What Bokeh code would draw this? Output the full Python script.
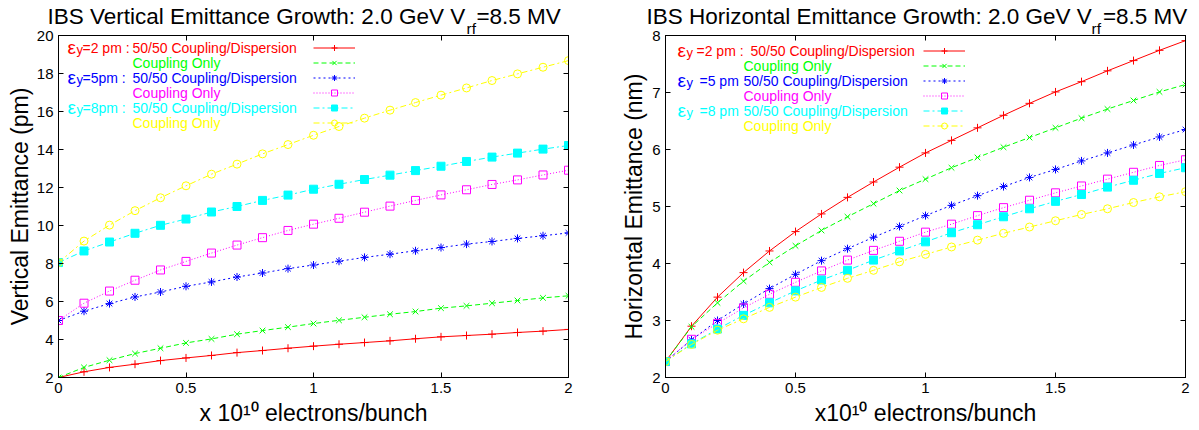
from bokeh.plotting import figure
from bokeh.models import Range1d, LinearAxis, FixedTicker, Label, Legend, LegendItem, Title
from bokeh.layouts import row
from bokeh.embed import file_html
from bokeh.resources import INLINE
from bokeh.core.properties import value

# ---------------- data ----------------
x_vals = [0.0, 0.1, 0.2, 0.3, 0.4, 0.5, 0.6, 0.7, 0.8, 0.9, 1.0,
          1.1, 1.2, 1.3, 1.4, 1.5, 1.6, 1.7, 1.8, 1.9, 2.0]

# Vertical emittance (pm)
v_2pm_5050 = [2.00, 2.30, 2.53, 2.70, 2.89, 3.03, 3.16, 3.31, 3.42, 3.54, 3.65,
              3.75, 3.84, 3.93, 4.04, 4.14, 4.21, 4.28, 4.37, 4.44, 4.53]
v_2pm_coup = [2.00, 2.53, 2.91, 3.26, 3.54, 3.82, 4.03, 4.28, 4.47, 4.65, 4.84,
              5.01, 5.17, 5.33, 5.47, 5.65, 5.77, 5.91, 6.05, 6.19, 6.30]
v_5pm_5050 = [5.00, 5.49, 5.89, 6.24, 6.50, 6.80, 7.03, 7.29, 7.50, 7.73, 7.92,
              8.12, 8.32, 8.49, 8.67, 8.84, 9.02, 9.16, 9.32, 9.46, 9.61]
v_5pm_coup = [5.00, 5.91, 6.55, 7.12, 7.66, 8.11, 8.55, 8.97, 9.36, 9.74, 10.07,
              10.38, 10.70, 11.02, 11.32, 11.61, 11.88, 12.16, 12.40, 12.66, 12.91]
v_8pm_5050 = [8.05, 8.66, 9.13, 9.59, 10.01, 10.34, 10.71, 11.00, 11.32, 11.60, 11.91,
              12.17, 12.42, 12.65, 12.89, 13.12, 13.37, 13.60, 13.81, 14.02, 14.21]
v_8pm_coup = [8.05, 9.18, 10.02, 10.78, 11.46, 12.09, 12.70, 13.23, 13.77, 14.26, 14.75,
              15.21, 15.65, 16.07, 16.47, 16.86, 17.24, 17.63, 17.98, 18.33, 18.68]

# Horizontal emittance (nm)
h_2pm_5050 = [2.28, 2.90, 3.41, 3.84, 4.22, 4.56, 4.87, 5.16, 5.43, 5.69, 5.94,
              6.16, 6.38, 6.60, 6.81, 7.01, 7.19, 7.38, 7.56, 7.74, 7.91]
h_2pm_coup = [2.28, 2.89, 3.31, 3.69, 4.02, 4.31, 4.58, 4.82, 5.05, 5.28, 5.48,
              5.68, 5.86, 6.04, 6.21, 6.38, 6.55, 6.71, 6.86, 7.01, 7.14]
h_5pm_5050 = [2.28, 2.66, 3.00, 3.29, 3.56, 3.81, 4.05, 4.26, 4.46, 4.65, 4.84,
              5.02, 5.19, 5.35, 5.51, 5.65, 5.80, 5.94, 6.08, 6.22, 6.35]
h_5pm_coup = [2.28, 2.67, 2.95, 3.22, 3.46, 3.67, 3.87, 4.06, 4.23, 4.39, 4.55,
              4.69, 4.84, 4.98, 5.11, 5.24, 5.36, 5.48, 5.60, 5.72, 5.82]
h_8pm_5050 = [2.28, 2.59, 2.85, 3.09, 3.31, 3.52, 3.71, 3.88, 4.06, 4.22, 4.38,
              4.54, 4.68, 4.82, 4.96, 5.09, 5.21, 5.34, 5.46, 5.58, 5.68]
h_8pm_coup = [2.28, 2.58, 2.83, 3.03, 3.23, 3.41, 3.58, 3.74, 3.88, 4.03, 4.16,
              4.29, 4.41, 4.53, 4.64, 4.75, 4.86, 4.96, 5.07, 5.17, 5.26]

x_ticks = [0, 0.5, 1, 1.5, 2]
x_tick_labels = ["0", "0.5", "1", "1.5", "2"]
v_ticks = [2, 4, 6, 8, 10, 12, 14, 16, 18, 20]
v_tick_labels = ["2", "4", "6", "8", "10", "12", "14", "16", "18", "20"]
h_ticks = [2, 3, 4, 5, 6, 7, 8]
h_tick_labels = ["2", "3", "4", "5", "6", "7", "8"]

# title: main line (an en space leaves room for the "rf" subscript) + subscript
left_title = ["IBS Vertical Emittance Growth: 2.0 GeV V\u2002=8.5 MV", "rf"]
right_title = ["IBS Horizontal Emittance Growth: 2.0 GeV V\u2002=8.5 MV", "rf"]
left_ylabel = "Vertical Emittance (pm)"
right_ylabel = "Horizontal Emittance (nm)"
left_xlabel = "x 10\u00b9\u2070 electrons/bunch"
right_xlabel = "x10\u00b9\u2070 electrons/bunch"

left_legend_prefix = ["=2 pm :", "", "=5pm :", "", "=8pm :", ""]
right_legend_prefix = ["=2 pm :", "", "=5 pm", "", "=8 pm", ""]
legend_names = ["50/50 Coupling/Dispersion", "Coupling Only",
                "50/50 Coupling/Dispersion", "Coupling Only",
                "50/50 Coupling/Dispersion", "Coupling Only"]

# ---------------- styles ----------------
FONT = "Liberation Sans"
styles = [
    dict(color="#ff0000", dash="solid", marker="cross", size=8, fill=False),
    dict(color="#00ff00", dash="5 3", marker="x", size=8, fill=False),
    dict(color="#0000ff", dash="2 3", marker="asterisk", size=8, fill=False),
    dict(color="#ff00ff", dash="1 2", marker="square", size=8, fill=False),
    dict(color="#00ffff", dash="6 3 2 3", marker="square", size=8, fill=True),
    dict(color="#ffff00", dash="6 3 2 3", marker="circle", size=8, fill=False),
]


def add_text(p, s, dx, dy, size, color="black", align="left", baseline="alphabetic"):
    p.add_layout(Label(x=p.x_range.start, y=p.y_range.end, x_offset=dx, y_offset=dy,
                       text=s, text_font=FONT, text_font_size=size,
                       text_color=color, text_align=align, text_baseline=baseline))


def add_title(p, text, offset, size, standoff):
    p.add_layout(Title(text=text, align="left", offset=offset, vertical_align="top",
                       standoff=standoff, text_font=FONT, text_font_size=size,
                       text_font_style="normal", text_color="black"), "above")


def make_fig(series, ymin, ymax, yticks, ytlabels, frame_w, border_left, border_right,
             ylabel, xlabel, ylabel_standoff):
    p = figure(frame_width=frame_w, frame_height=342,
               x_range=Range1d(0, 2), y_range=Range1d(ymin, ymax),
               output_backend="svg", toolbar_location=None,
               min_border_left=border_left, min_border_right=border_right,
               min_border_top=35, min_border_bottom=52,
               background_fill_color="white", border_fill_color="white")
    p.title = None
    p.grid.visible = False
    p.outline_line_color = "black"
    p.outline_line_width = 1

    for ax in p.xaxis:
        ax.ticker = FixedTicker(ticks=x_ticks)
        ax.major_label_overrides = {t: l for t, l in zip(x_ticks, x_tick_labels)}
        ax.axis_label = xlabel
        ax.axis_label_standoff = 4
    for ax in p.yaxis:
        ax.ticker = FixedTicker(ticks=yticks)
        ax.major_label_overrides = {t: l for t, l in zip(yticks, ytlabels)}
        ax.axis_label = ylabel
        ax.axis_label_standoff = ylabel_standoff
    for ax in list(p.xaxis) + list(p.yaxis):
        ax.major_tick_in = 5
        ax.major_tick_out = 0
        ax.minor_tick_in = 0
        ax.minor_tick_out = 0
        ax.axis_line_color = "black"
        ax.major_tick_line_color = "black"
        ax.major_label_text_font = FONT
        ax.major_label_text_font_size = "15px"
        ax.major_label_text_color = "black"
        ax.major_label_standoff = 5
        ax.axis_label_text_font = FONT
        ax.axis_label_text_font_size = "23px"
        ax.axis_label_text_font_style = "normal"
        ax.axis_label_text_color = "black"

    top = LinearAxis(ticker=FixedTicker(ticks=x_ticks), major_tick_in=5, major_tick_out=0,
                     minor_tick_in=0, minor_tick_out=0, major_label_text_font_size="0px",
                     major_label_text_color=None,
                     major_label_standoff=0, axis_line_color="black")
    right = LinearAxis(ticker=FixedTicker(ticks=yticks), major_tick_in=5, major_tick_out=0,
                       minor_tick_in=0, minor_tick_out=0, major_label_text_font_size="0px",
                       major_label_text_color=None,
                       major_label_standoff=0, axis_line_color="black")
    p.add_layout(top, "above")
    p.add_layout(right, "right")

    items = []
    for ys, st in zip(series, styles):
        lr = p.line(x_vals, ys, line_color=st["color"], line_width=1,
                    line_dash=st["dash"])
        sr = p.scatter(x_vals, ys, marker=st["marker"], size=st["size"],
                       line_color=st["color"], line_width=1,
                       fill_color=st["color"] if st["fill"] else None)
        items.append(LegendItem(label=value(" "), renderers=[lr, sr]))
    return p, items


# ---------------- left figure ----------------
p1, items1 = make_fig([v_2pm_5050, v_2pm_coup, v_5pm_5050, v_5pm_coup, v_8pm_5050, v_8pm_coup],
                      2, 20, v_ticks, v_tick_labels, 510, 58, 40,
                      left_ylabel, left_xlabel, 1)
# ---------------- right figure ----------------
p2, items2 = make_fig([h_2pm_5050, h_2pm_coup, h_5pm_5050, h_5pm_coup, h_8pm_5050, h_8pm_coup],
                      2, 8, h_ticks, h_tick_labels, 520, 57, 13,
                      right_ylabel, right_xlabel, 2)


def add_legend(p, items, lx, ly_bottom):
    lg = Legend(items=items, location=(lx, ly_bottom), orientation="vertical",
                glyph_width=42, glyph_height=15, label_height=15, label_width=0,
                label_standoff=0, padding=0, margin=0, spacing=0,
                border_line_alpha=0, background_fill_alpha=0,
                label_text_font_size="2px", label_text_color=None)
    p.add_layout(lg)


add_legend(p1, items1, 255, 247.5)
add_legend(p2, items2, 258, 244.5)


def legend_texts(p, prefixes, rows_y, eps_x, y_x, pre_x, name_x_main, name_x_only):
    for i, (pre, name, st) in enumerate(zip(prefixes, legend_names, styles)):
        dy = -rows_y[i]
        c = st["color"]
        if pre:
            add_text(p, "ε", eps_x, dy, "19px", c, baseline="middle")
            add_text(p, "y", y_x, dy - 2, "13px", c, baseline="middle")
            add_text(p, pre, pre_x[i], dy, "14px", c, baseline="middle")
            add_text(p, name, name_x_main[i], dy, "14px", c, baseline="middle")
        else:
            add_text(p, name, name_x_only, dy, "14px", c, baseline="middle")


legend_texts(p1, left_legend_prefix, [12, 27, 42, 57, 72, 87],
             9, 18, [24, 0, 24, 0, 24, 0], [74, 0, 74, 0, 74, 0], 74)
legend_texts(p2, right_legend_prefix, [15, 30, 45, 60, 75, 90],
             12, 21, [31, 0, 34, 0, 34, 0], [85, 0, 78, 0, 78, 0], 78)

# titles: subscript row next to the frame, main line above it
add_title(p1, left_title[1], 408, "15.5px", -8.3)
add_title(p1, left_title[0], -11, "22.5px", -13.1)
add_title(p2, right_title[1], 426, "15.5px", -8.3)
add_title(p2, right_title[0], -19, "22.5px", -13.1)

layout = row(p1, p2)
open("out.html", "w").write(file_html(layout, INLINE))
